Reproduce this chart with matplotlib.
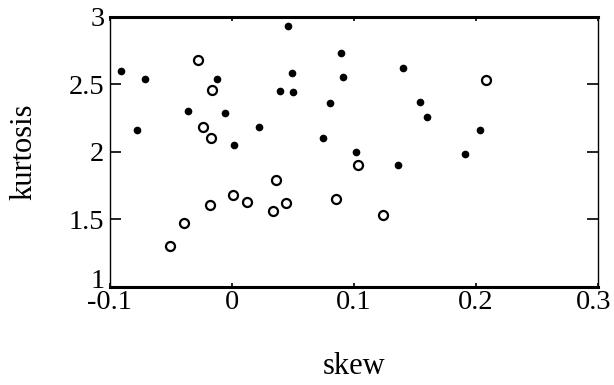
import matplotlib
matplotlib.use("Agg")
import matplotlib.pyplot as plt
from matplotlib.transforms import ScaledTranslation

# filled points (skew, kurtosis)
filled_skew = [-0.091, -0.078, -0.071, -0.036, -0.012, -0.006, 0.002, 0.022, 0.039,
               0.046, 0.049, 0.050, 0.075, 0.080, 0.089, 0.091, 0.102, 0.136, 0.140,
               0.154, 0.160, 0.191, 0.203]
filled_kurt = [2.60, 2.16, 2.54, 2.30, 2.54, 2.29, 2.05, 2.18, 2.45,
               2.93, 2.58, 2.44, 2.10, 2.36, 2.73, 2.55, 2.00, 1.90, 2.62,
               2.37, 2.26, 1.98, 2.16]

# open circles
open_skew = [-0.028, -0.016, -0.024, -0.017, -0.051, -0.039, -0.018, 0.001, 0.012,
             0.036, 0.034, 0.044, 0.085, 0.103, 0.124, 0.208]
open_kurt = [2.68, 2.46, 2.18, 2.10, 1.30, 1.47, 1.61, 1.68, 1.63,
             1.79, 1.56, 1.62, 1.65, 1.90, 1.53, 2.53]

xticks = [-0.1, 0, 0.1, 0.2, 0.3]
xticklabels = ["-0.1", "0", "0.1", "0.2", "0.3"]
yticks = [1, 1.5, 2, 2.5, 3]
yticklabels = ["1", "1.5", "2", "2.5", "3"]

plt.rcParams['font.family'] = ['Liberation Serif', 'DejaVu Serif']

fig = plt.figure(figsize=(6.14, 3.85), dpi=100)
ax = fig.add_axes([0.179, 0.2545, 0.795, 0.7025])

ax.plot(filled_skew, filled_kurt, 'o', color='black', markersize=4.5, linestyle='none')
ax.plot(open_skew, open_kurt, 'o', markerfacecolor='white', markeredgecolor='black',
        markersize=6.5, markeredgewidth=1.6, linestyle='none')

ax.set_xlim(-0.1, 0.3)
ax.set_ylim(1, 3)
ax.set_xticks(xticks)
ax.set_xticklabels(xticklabels)
ax.set_yticks(yticks)
ax.set_yticklabels(yticklabels)

ax.tick_params(axis='both', direction='in', labelsize=20.5, length=8, width=1.2,
               top=True, right=True)
ax.tick_params(axis='x', length=3, pad=2)
ax.tick_params(axis='y', pad=4)

# nudge edge labels like in the reference
xl = ax.get_xticklabels()
xl[-1].set_transform(xl[-1].get_transform() + ScaledTranslation(-4/100, 0, fig.dpi_scale_trans))
yl = ax.get_yticklabels()
yl[0].set_transform(yl[0].get_transform() + ScaledTranslation(0, 9/100, fig.dpi_scale_trans))

ax.spines['top'].set_linewidth(2.2)
ax.spines['bottom'].set_linewidth(2.2)
for s in ['left', 'right']:
    ax.spines[s].set_linewidth(1.0)
    ax.spines[s].set_linestyle((0, (3, 1)))

ax.set_xlabel("skew", fontsize=22, labelpad=27)
ax.set_ylabel("kurtosis", fontsize=22, labelpad=22)

fig.savefig("out.png", dpi=100)
